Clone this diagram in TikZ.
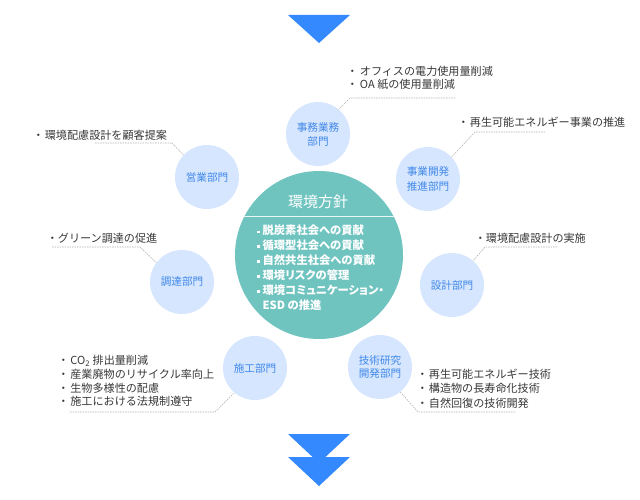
\documentclass[tikz,border=0pt]{standalone}
\usepackage{fontspec}
\setmainfont{Noto Sans CJK JP}
\definecolor{arrowblue}{RGB}{52,137,255}
\definecolor{policyteal}{RGB}{112,196,192}
\definecolor{deptfill}{RGB}{214,230,255}
\definecolor{depttext}{RGB}{64,136,232}
\definecolor{notetext}{RGB}{55,55,55}
\definecolor{leadgray}{RGB}{176,176,176}
\newcommand\sqb{\raisebox{0.32ex}{\rule{2.4pt}{2.4pt}}\hspace{3pt}}
\tikzset{
  dept/.style={circle, fill=deptfill, text=depttext, minimum size=64pt, inner sep=0pt, align=center},
  deptfont/.style={font=\fontsize{10.6}{#1}\selectfont},
  note/.style={anchor=west, align=left, text=notetext, inner sep=0pt, font=\fontsize{11.1}{13.6}\selectfont},
  lead/.style={draw=leadgray, dash pattern=on 1.5pt off 1pt, line width=0.6pt},
}
\begin{document}
\begin{tikzpicture}[x=1pt,y=-1pt]
\useasboundingbox (0,0) rectangle (640,500);
% arrows
\fill[arrowblue] (288,15) -- (350,15) -- (319,43) -- cycle;
\fill[arrowblue] (288,434) -- (350,434) -- (319,463) -- cycle;
\fill[arrowblue] (288,457) -- (350,457) -- (319,486) -- cycle;
% central policy
\node[circle, fill=policyteal, minimum size=168pt, inner sep=0pt] (policy) at (319,255) {};
\node[text=white, font=\fontsize{15}{16}\selectfont, inner sep=0pt] (ttl) at (318,202) {環境方針};
\draw[white!85!policyteal, line width=0.8pt] (policy.153) -- (policy.27);
\node[anchor=north west, align=left, text=white, inner sep=0pt,
      font=\fontsize{11.3}{14.9}\selectfont\bfseries\addfontfeature{RawFeature=+palt}] (plist) at (257,225)
  {\sqb 脱炭素社会への貢献\\
   \sqb 循環型社会への貢献\\
   \sqb 自然共生社会への貢献\\
   \sqb 環境リスクの管理\\
   \sqb 環境コミュニケーション・\\
   \phantom{\sqb}ESD の推進};
% departments
\node[dept, deptfont=14] (c1) at (318,134) {事務業務\\部門};
\node[dept, deptfont=14] (c2) at (207,177) {営業部門};
\node[dept, deptfont=15] (c3) at (428,179) {事業開発\\推進部門};
\node[dept, deptfont=14] (c4) at (182,282) {調達部門};
\node[dept, deptfont=14] (c5) at (452,285) {設計部門};
\node[dept, deptfont=14] (c6) at (255,368) {施工部門};
\node[dept, deptfont=12.5] (c7) at (380,367) {技術研究\\開発部門};
% notes
\node[note] (n1) at (346.6,78) {・\hspace{2pt}オフィスの電力使用量削減\\・\hspace{2pt}OA 紙の使用量削減};
\node[note] (n2) at (32.6,135) {・\hspace{1pt}環境配慮設計を顧客提案};
\node[note] (n3) at (457.6,122) {・\hspace{1pt}再生可能エネルギー事業の推進};
\node[note] (n4) at (46.6,238) {・グリーン調達の促進};
\node[note] (n5) at (474.6,238) {・環境配慮設計の実施};
\node[note] (n6) at (57.6,381) {・\hspace{1.5pt}CO\textsubscript{2} 排出量削減\\・\hspace{1.5pt}産業廃物のリサイクル率向上\\・\hspace{1.5pt}生物多様性の配慮\\・\hspace{1.5pt}施工における法規制遵守};
\node[note, font=\fontsize{11.1}{14.5}\selectfont] (n7) at (416.6,388.5) {・\hspace{1pt}再生可能エネルギー技術\\・\hspace{1pt}構造物の長寿命化技術\\・\hspace{1pt}自然回復の技術開発};
% leaders
\coordinate (e1) at (455,98);  \coordinate (k1) at (350,98);
\coordinate (e2) at (95,143);  \coordinate (k2) at (172,143);
\coordinate (e3) at (545,132); \coordinate (k3) at (475,132);
\coordinate (e4) at (52,247);  \coordinate (k4) at (140,247);
\coordinate (e5) at (557,247); \coordinate (k5) at (485,247);
\coordinate (e6) at (70,412);  \coordinate (k6) at (215,412);
\coordinate (e7) at (515,412); \coordinate (k7) at (418,412);
\draw[lead] (e1) -- (k1) -- (c1.50);
\draw[lead] (e2) -- (k2) -- (c2.137);
\draw[lead] (e3) -- (k3) -- (c3.43);
\draw[lead] (e4) -- (k4) -- (c4.143);
\draw[lead] (e5) -- (k5) -- (c5.49);
\draw[lead] (e6) -- (k6) -- (c6.230);
\draw[lead] (e7) -- (k7) -- (c7.309);
\end{tikzpicture}
\end{document}
